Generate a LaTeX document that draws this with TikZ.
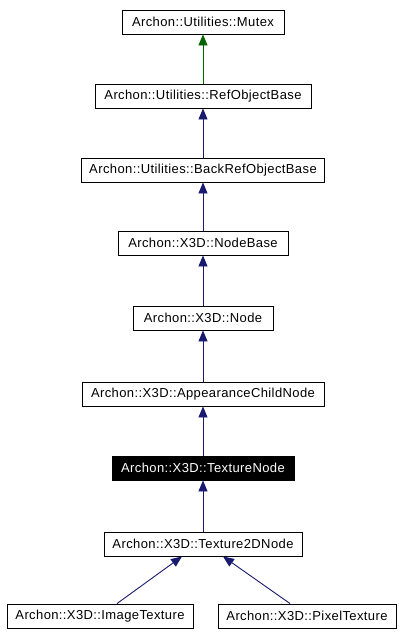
\documentclass[tikz,border=0pt]{standalone}
\usepackage{fontspec}
\setmainfont[LetterSpace=3]{Liberation Sans}
\usepackage{xcolor}
\usetikzlibrary{arrows.meta}
\definecolor{edgeblue}{HTML}{191970}
\definecolor{edgegreen}{HTML}{006400}

\begin{document}
\begin{tikzpicture}[x=1pt,y=-1pt,
	cls/.style={draw, line width=0.9pt, minimum height=24pt, inner sep=0pt, font=\fontsize{13}{15}\selectfont},
	cur/.style={cls, fill=black, text=white},
	inh/.style={draw=edgeblue, line width=0.9pt, -{Triangle[length=11pt,width=9pt,fill=edgeblue]}},
	inhg/.style={inh, draw=edgegreen, -{Triangle[length=11pt,width=9pt,fill=edgegreen]}}]
	\useasboundingbox (0,0) rectangle (403,637);
	% class boxes
	\node[cls, minimum width=162pt] (mutex) at (203,22) {Archon::Utilities::Mutex};
	\node[cls, minimum width=216pt] (refobj) at (203,96) {Archon::Utilities::RefObjectBase};
	\node[cls, minimum width=243pt] (backref) at (203,170) {Archon::Utilities::BackRefObjectBase};
	\node[cls, minimum width=170pt] (nodebase) at (203,243) {Archon::X3D::NodeBase};
	\node[cls, minimum width=140pt] (node) at (203,318) {Archon::X3D::Node};
	\node[cls, minimum width=242pt] (appchild) at (203,394) {Archon::X3D::AppearanceChildNode};
	\node[cur, minimum width=182pt] (texnode) at (203,468) {Archon::X3D::TextureNode};
	\node[cls, minimum width=198pt] (tex2d) at (203,544) {Archon::X3D::Texture2DNode};
	\node[cls, minimum width=186pt] (imgtex) at (100,616) {Archon::X3D::ImageTexture};
	\node[cls, minimum width=178pt] (pixtex) at (307,616) {Archon::X3D::PixelTexture};
	% inheritance
	\draw[inhg] (refobj) -- (mutex);
	\draw[inh] (backref) -- (refobj);
	\draw[inh] (nodebase) -- (backref);
	\draw[inh] (node) -- (nodebase);
	\draw[inh] (appchild) -- (node);
	\draw[inh] (texnode) -- (appchild);
	\draw[inh] (tex2d) -- (texnode);
	\draw[inh] ([xshift=17pt]imgtex.north) -- ([xshift=-21pt]tex2d.south);
	\draw[inh] ([xshift=-17pt]pixtex.north) -- ([xshift=20pt]tex2d.south);
\end{tikzpicture}
\end{document}
